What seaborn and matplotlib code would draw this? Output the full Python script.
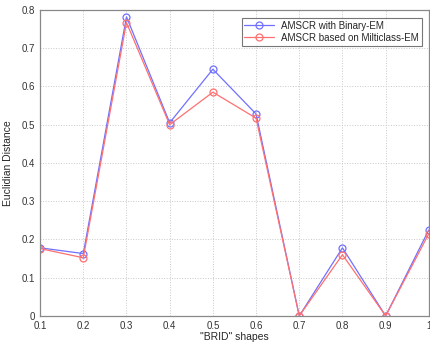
import numpy as np
import matplotlib
matplotlib.use("Agg")
import matplotlib.pyplot as plt
import seaborn as sns

shapes = [0.1, 0.2, 0.3, 0.4, 0.5, 0.6, 0.7, 0.8, 0.9, 1.0]
binary_em = [0.178, 0.163, 0.782, 0.505, 0.645, 0.528, 0.0, 0.178, 0.0, 0.225]
multiclass_em = [0.176, 0.152, 0.767, 0.500, 0.585, 0.517, 0.0, 0.160, 0.0, 0.215]
labels = ["AMSCR with Binary-EM", "AMSCR based on Milticlass-EM"]
colors = ["#7070ff", "#ff7070"]

sns.set_style("white")
plt.rcParams['font.family'] = ['Liberation Sans', 'DejaVu Sans']

fig = plt.figure(figsize=(4.31, 3.43), dpi=100)
ax = fig.add_axes([0.093, 0.079, 0.902, 0.892])

for vals, lab, c in zip([binary_em, multiclass_em], labels, colors):
    sns.lineplot(x=shapes, y=vals, color=c, marker="o", markersize=5,
                 markerfacecolor="none", markeredgecolor=c,
                 markeredgewidth=0.9, linewidth=0.9, label=lab, ax=ax,
                 legend=False)

ax.set_xlim(0.1, 1.0)
ax.set_ylim(0, 0.8)
ax.set_xticks(shapes)
ax.set_xticklabels(["0.1", "0.2", "0.3", "0.4", "0.5", "0.6", "0.7", "0.8", "0.9", "1"])
ax.set_yticks(np.arange(0, 0.81, 0.1))
ax.set_yticklabels(["0", "0.1", "0.2", "0.3", "0.4", "0.5", "0.6", "0.7", "0.8"])
ax.grid(True, linestyle=":", color="#c8c8c8", linewidth=0.7)
ax.tick_params(labelsize=7, length=3, direction="in", colors="#333333")
for s in ax.spines.values():
    s.set_color("#888888")
    s.set_linewidth(0.9)

ax.set_xlabel('"BRID" shapes', fontsize=7.5, labelpad=1)
ax.set_ylabel("Euclidian Distance", fontsize=7.5, labelpad=6)

leg = ax.legend(handles=ax.get_lines(), labels=labels, loc="upper right",
                fontsize=7, frameon=True, fancybox=False,
                handlelength=3, borderpad=0.3, labelspacing=0.2,
                bbox_to_anchor=(0.995, 0.99))
leg.get_frame().set_edgecolor("#555555")
leg.get_frame().set_linewidth(0.8)

plt.savefig("out.png", dpi=100)
